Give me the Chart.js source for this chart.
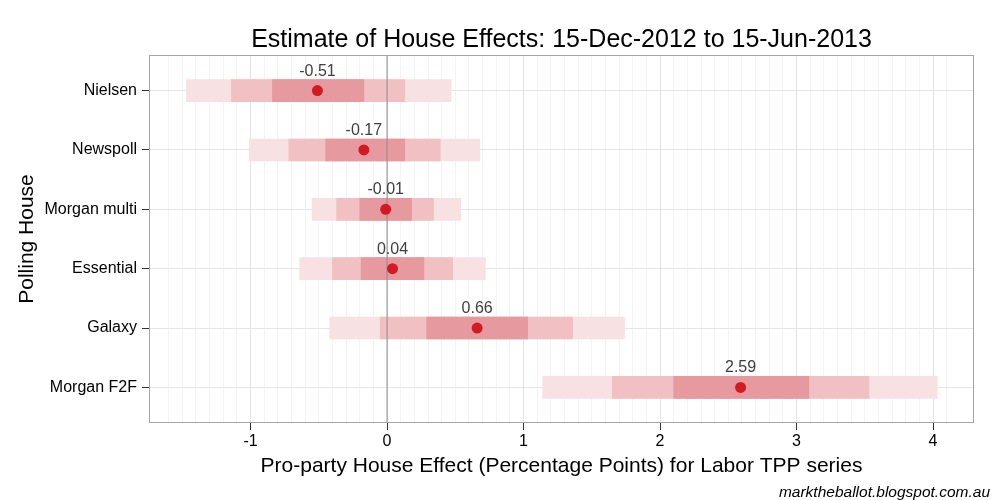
<!DOCTYPE html>
<html>
<head>
<meta charset="utf-8">
<script src="https://cdn.jsdelivr.net/npm/chart.js@4.4.0/dist/chart.umd.min.js"></script>
<style>
  html, body { margin: 0; padding: 0; background: #fff; }
  #wrap { width: 1000px; height: 500px; }
</style>
</head>
<body>
<div id="wrap"><canvas id="houseChart"></canvas></div>
<script>
// house effect estimates
const houses = ["Nielsen", "Newspoll", "Morgan multi", "Essential", "Galaxy", "Morgan F2F"];
const effect = [-0.51, -0.17, -0.01, 0.04, 0.66, 2.59];
// nested intervals: outer (lightest), middle, inner (darkest)
const outerLo = [-1.47, -1.01, -0.55, -0.64, -0.42, 1.14];
const outerHi = [0.47, 0.68, 0.54, 0.72, 1.74, 4.03];
const midLo = [-1.14, -0.72, -0.37, -0.40, -0.05, 1.65];
const midHi = [0.13, 0.39, 0.34, 0.48, 1.36, 3.53];
const innerLo = [-0.84, -0.45, -0.20, -0.19, 0.29, 2.10];
const innerHi = [-0.17, 0.13, 0.18, 0.27, 1.03, 3.09];
// x axis: labelled ticks and minor gridline range (tenths)
const xTickLabels = [-1, 0, 1, 2, 3, 4];
const minorFrom = -16, minorTo = 41;

const FONT = "'Liberation Sans', Arial, sans-serif";

function bandData(lo, hi) {
  return houses.map((h, i) => ({ x: [lo[i], hi[i]], y: i + 1 }));
}

function isMajor(v) {
  return Math.abs(v - Math.round(v)) < 1e-6;
}

// -------------------------------
// panel box, zero line, value labels, credit
// -------------------------------
const decorations = {
  id: "decorations",
  afterDatasetDraw(chart, args) {
    // zero line goes over the bands but under the points
    if (args.index !== 2) return;
    const { ctx, chartArea } = chart;
    const x0 = chart.scales.x.getPixelForValue(0);
    ctx.save();
    ctx.strokeStyle = "#8c8c8c";
    ctx.lineWidth = 1;
    ctx.beginPath();
    ctx.moveTo(x0, chartArea.top);
    ctx.lineTo(x0, chartArea.bottom);
    ctx.stroke();
    ctx.restore();
  },
  afterDatasetsDraw(chart) {
    const { ctx, chartArea } = chart;
    ctx.save();
    ctx.strokeStyle = "#a6a6a6";
    ctx.lineWidth = 1;
    ctx.strokeRect(chartArea.left + 0.5, chartArea.top + 0.5,
      chartArea.right - chartArea.left - 1, chartArea.bottom - chartArea.top - 1);

    const meta = chart.getDatasetMeta(3);
    ctx.fillStyle = "#404040";
    ctx.font = "16px " + FONT;
    ctx.textAlign = "center";
    ctx.textBaseline = "alphabetic";
    meta.data.forEach((pt, i) => {
      ctx.fillText(effect[i].toFixed(2), pt.x, pt.y - 15);
    });

    ctx.fillStyle = "#000";
    ctx.font = "italic 15.5px " + FONT;
    ctx.textAlign = "right";
    ctx.fillText("marktheballot.blogspot.com.au", 990, 497);
    ctx.restore();
  }
};

const ctx = document.getElementById("houseChart");

new Chart(ctx, {
  type: "bar",
  data: {
    datasets: [
      { label: "outer", data: bandData(outerLo, outerHi), backgroundColor: "#f8e1e3", grouped: false, barThickness: 22, order: 3 },
      { label: "middle", data: bandData(midLo, midHi), backgroundColor: "#f0c0c3", grouped: false, barThickness: 22, order: 2 },
      { label: "inner", data: bandData(innerLo, innerHi), backgroundColor: "#e69a9f", grouped: false, barThickness: 22, order: 1 },
      {
        type: "scatter",
        label: "estimate",
        data: houses.map((h, i) => ({ x: effect[i], y: i + 1 })),
        backgroundColor: "#d11a22",
        borderWidth: 0,
        pointRadius: 5.5,
        order: 0
      }
    ]
  },
  options: {
    indexAxis: "y",
    responsive: true,
    maintainAspectRatio: false,
    animation: false,
    layout: { padding: { left: 0, right: 26, top: 0, bottom: 0 } },
    plugins: {
      legend: { display: false },
      tooltip: { enabled: false },
      title: {
        display: true,
        fullSize: false,
        text: "Estimate of House Effects: 15-Dec-2012 to 15-Jun-2013",
        color: "#000",
        font: { family: FONT, size: 25, weight: "normal", lineHeight: 1.2 },
        padding: { top: 25, bottom: 0 }
      }
    },
    scales: {
      x: {
        type: "linear",
        min: -1.744,
        max: 4.30,
        afterBuildTicks(scale) {
          const t = [];
          for (let k = minorFrom; k <= minorTo; k++) t.push({ value: k / 10 });
          scale.ticks = t;
        },
        afterFit(scale) { scale.height = 77; },
        border: { display: false },
        grid: {
          color: c => isMajor(c.tick.value) ? "#e3e3e3" : "#f3f3f3",
          tickColor: c => isMajor(c.tick.value) && xTickLabels.includes(Math.round(c.tick.value)) ? "#333" : "rgba(0,0,0,0)",
          tickLength: 7,
          lineWidth: 1
        },
        ticks: {
          autoSkip: false,
          maxRotation: 0,
          padding: 2,
          color: "#000",
          font: { family: FONT, size: 16 },
          callback: v => isMajor(v) && xTickLabels.includes(Math.round(v)) ? String(Math.round(v)) : ""
        },
        title: {
          display: true,
          text: "Pro-party House Effect (Percentage Points) for Labor TPP series",
          color: "#000",
          font: { family: FONT, size: 21, lineHeight: 1.2 },
          padding: { top: 0, bottom: 21 }
        }
      },
      y: {
        type: "linear",
        min: 0.4,
        max: 6.6,
        reverse: true,
        offset: false,
        afterBuildTicks(scale) {
          scale.ticks = houses.map((h, i) => ({ value: i + 1 }));
        },
        afterFit(scale) { scale.width = 149; },
        border: { display: false },
        grid: {
          offset: false,
          color: "#e6e6e6",
          tickColor: "#333",
          tickLength: 7
        },
        ticks: {
          padding: 5,
          color: "#000",
          font: { family: FONT, size: 16 },
          callback: v => houses[Math.round(v) - 1] || ""
        },
        title: {
          display: true,
          text: "Polling House",
          color: "#000",
          font: { family: FONT, size: 21, lineHeight: 1.2 },
          padding: { top: 15, bottom: 0 }
        }
      }
    }
  },
  plugins: [decorations]
});
</script>
</body>
</html>
